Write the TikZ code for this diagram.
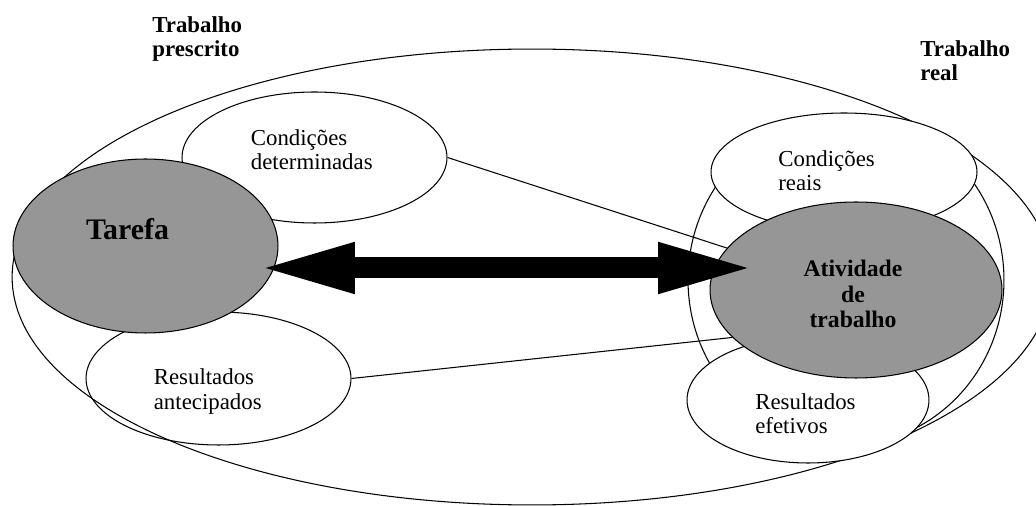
\documentclass[tikz,border=0pt]{standalone}
\usepackage{fontspec}
\setmainfont{Liberation Serif}
\usepackage{tikz}
\usetikzlibrary{shapes}
\usetikzlibrary{calc}
\usetikzlibrary{arrows.meta}
\usepackage{xcolor}
\definecolor{cinza}{RGB}{150,150,150}
\tikzstyle{E} = [ellipse,draw=black,line width=0.6pt,inner sep=0pt]
\tikzstyle{W} = [E,fill=white]
\tikzstyle{G} = [E,fill=cinza]
\tikzstyle{T} = [inner sep=0pt,align=left,anchor=west,font=\fontsize{13}{13.7}\selectfont]
\tikzstyle{B} = [T,font=\bfseries\fontsize{13}{13.7}\selectfont]
\tikzset{big/.style={line width=0.42cm,{Triangle[length=2cm,width=0.9cm]}-{Triangle[length=2cm,width=0.9cm]}}}

\begin{document}
\begin{tikzpicture}[x=0.02cm,y=-0.02cm]
  \useasboundingbox (0,0) rectangle (1036,506);
  \clip (0,0) rectangle (1036,506);

  % contornos
  \node [E,minimum width=20.8cm,minimum height=9.12cm] (tot) at (532,277) {};
  \node [E,minimum width=6.32cm,minimum height=6.6cm] (real) at (846,280) {};

  % trabalho prescrito
  \node [W,minimum width=5.3cm,minimum height=2.62cm] (cd) at (314.5,157.5) {};
  \node [E,minimum width=5.3cm,minimum height=2.66cm] (ra) at (218.5,378.5) {};
  \node [G,minimum width=5.3cm,minimum height=3.48cm] (ta) at (145.5,246) {};

  % trabalho real
  \node [W,minimum width=5.32cm,minimum height=2.36cm] (cr) at (844,172) {};
  \node [W,minimum width=4.84cm,minimum height=2.52cm] (re) at (808,400) {};
  \node [G,minimum width=5.84cm,minimum height=3.52cm] (at) at (856,290) {};

  \node [T] (cdt) at ($(cd)+(-64,-8)$) {Condições\\determinadas};
  \node [T] (rat) at ($(ra)+(-65,13)$) {Resultados\\antecipados};
  \node [T] (crt) at ($(cr)+(-66,-1)$) {Condições\\reais};
  \node [T] (ret) at ($(re)+(-53,14)$) {Resultados\\efetivos};

  \node [B,anchor=center,font=\bfseries\fontsize{17}{19}\selectfont] (tat) at ($(ta)+(-18,-17)$) {Tarefa};
  \node [B,anchor=center,align=center,font=\bfseries\fontsize{13.5}{14.3}\selectfont] (att) at ($(at)+(-3,4)$) {Atividade\\de\\trabalho};

  \node [B] (tp) at (152,39) {Trabalho\\prescrito};
  \node [B] (tr) at (920,61) {Trabalho\\real};

  \draw [line width=0.6pt] (cd.east) -- (at.162);
  \draw [line width=0.6pt] (ra.east) -- (at.201);

  \coordinate (pl) at (255,268);
  \coordinate (pr) at (758,268);
  \draw [big] (pl) -- (pr);

\end{tikzpicture}
\end{document}
